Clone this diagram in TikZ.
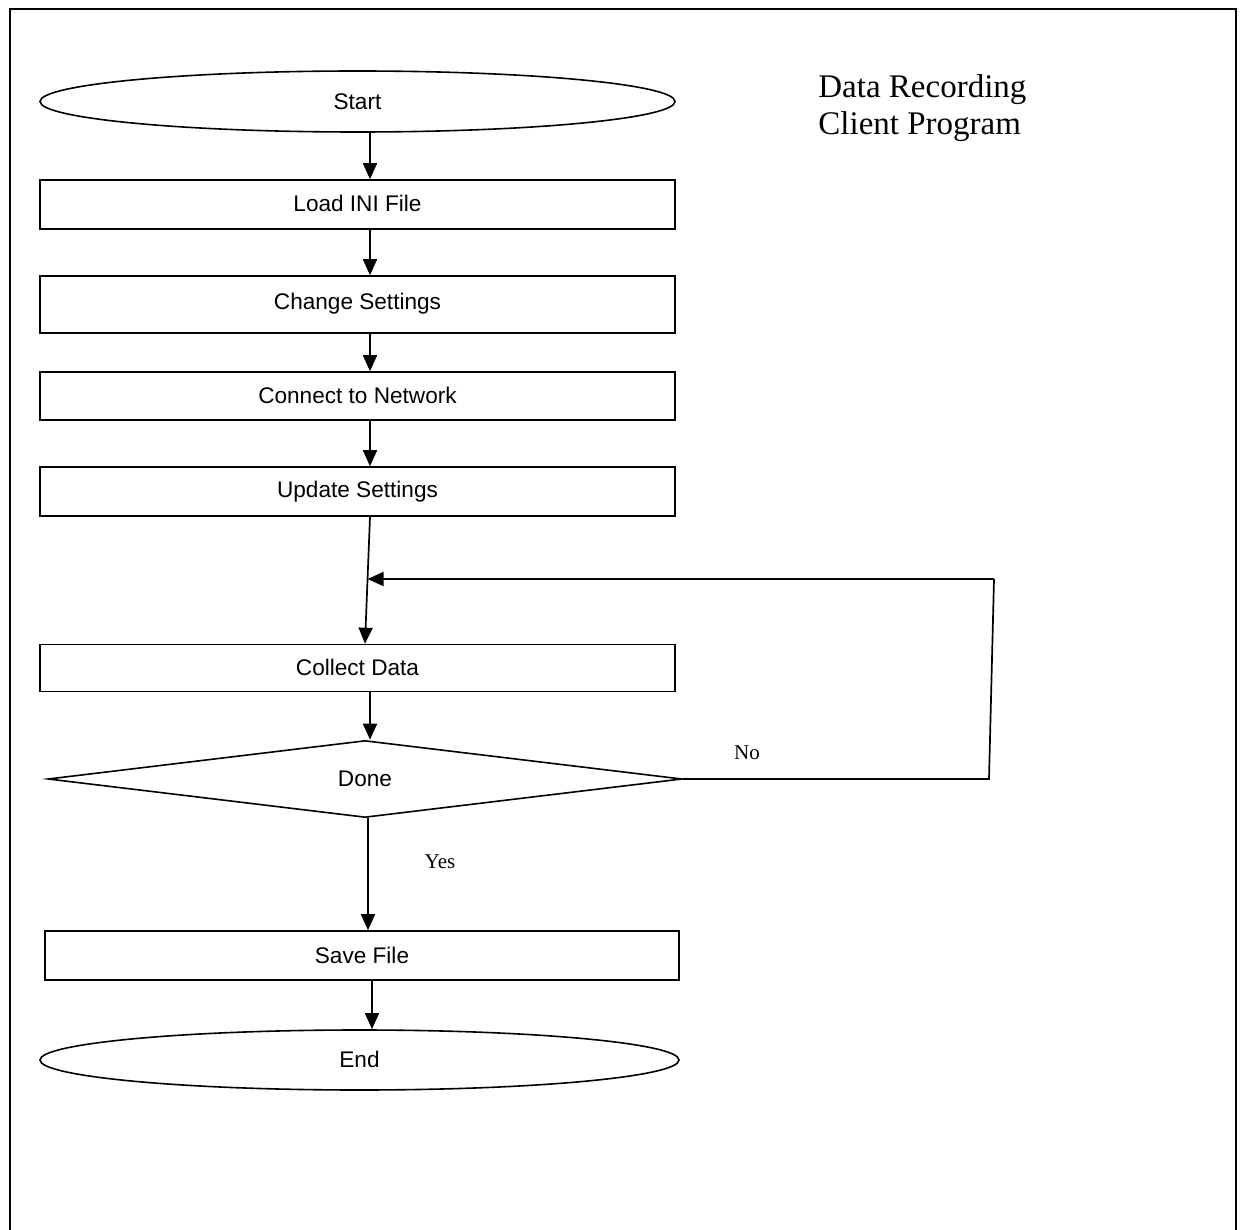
\documentclass[tikz,border=0pt]{standalone}
\usepackage{fontspec}
\setmainfont{Liberation Serif}
\newfontfamily\arial{Liberation Sans}
\usetikzlibrary{arrows.meta,shapes.geometric,calc}
\begin{document}
\begin{tikzpicture}[x=0.5pt,y=-0.5pt,
  flowline/.style={line width=0.85pt,-{Triangle[length=8pt,width=7pt]}},
  plainline/.style={line width=0.85pt},
  procbox/.style={draw,line width=0.8pt,rectangle,inner sep=0pt,
    minimum width=317.5pt,font=\arial\fontsize{11.3}{13.6}\selectfont},
  term/.style={draw,line width=0.8pt,ellipse,inner sep=0pt,
    font=\arial\fontsize{11.3}{13.6}\selectfont},
  decision/.style={draw,line width=0.8pt,diamond,inner sep=0pt,
    minimum width=317pt,minimum height=38.5pt,
    font=\arial\fontsize{11.3}{13.6}\selectfont},
  branchlabel/.style={inner sep=0pt,font=\fontsize{10.5}{12}\selectfont}
]
\useasboundingbox (0,0) rectangle (1243,1230);

% page frame (open at the bottom)
\draw[line width=1.1pt] (10,1232) -- (10,9) -- (1236,9) -- (1236,1232);

% title
\node[anchor=west,align=left,inner sep=0pt,font=\fontsize{16.5}{18.5}\selectfont]
  (title) at (818,108) {Data Recording\\Client Program};

% flow elements
\node[term,minimum width=317.5pt,minimum height=30.5pt] (start) at (357.5,101.5) {Start};
\node[procbox,minimum height=24.5pt] (ini) at (357.5,204.5) {\raisebox{1pt}{Load INI File}};
\node[procbox,minimum height=28.5pt] (chg) at (357.5,304.5) {\raisebox{3pt}{Change Settings}};
\node[procbox,minimum height=24pt] (net) at (357.5,396) {\raisebox{1pt}{Connect to Network}};
\node[procbox,minimum height=24.5pt] (upd) at (357.5,491.5) {\raisebox{0.5pt}{Update Settings}};
\node[procbox,minimum height=23.5pt] (col) at (357.5,668) {\raisebox{1pt}{Collect Data}};
\node[decision] (done) at (365,779) {Done};
\node[procbox,minimum width=317pt,minimum height=24.5pt] (save) at (362,955.5) {\raisebox{0.5pt}{Save File}};
\node[term,minimum width=319.5pt,minimum height=30pt] (end) at (359.5,1060) {\raisebox{1pt}{End}};

% branch labels
\node[branchlabel] (no) at (747,753) {No};
\node[branchlabel] (yes) at (440,862) {Yes};

% connector columns and loop corners
\coordinate (mainx) at (370,0);
\coordinate (colx) at (365,0);
\coordinate (yesx) at (368,0);
\coordinate (endx) at (372,0);
\coordinate (loopbot) at (989,779);
\coordinate (looptop) at (994,579);
\coordinate (merge) at (367.5,579);

% connectors
\draw[flowline] (start.south -| mainx) -- (ini.north -| mainx);
\draw[flowline] (ini.south -| mainx) -- (chg.north -| mainx);
\draw[flowline] (chg.south -| mainx) -- (net.north -| mainx);
\draw[flowline] (net.south -| mainx) -- (upd.north -| mainx);
\draw[flowline] (upd.south -| mainx) -- (col.north -| colx);
\draw[flowline] (col.south -| mainx) -- (done.north -| mainx);
\draw[flowline] (done.south -| yesx) -- (save.north -| yesx);
\draw[flowline] (save.south -| endx) -- (end.north -| endx);

% "No" loop back to the data collection step
\draw[plainline] (done.east) -- (loopbot) -- (looptop);
\draw[flowline] (looptop) -- (merge);
\end{tikzpicture}
\end{document}
